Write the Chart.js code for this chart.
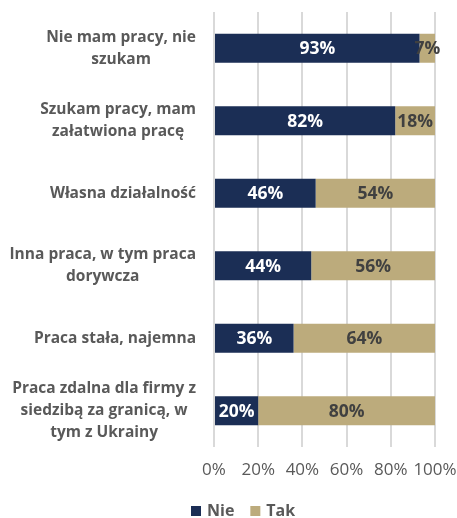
<!DOCTYPE html>
<html>
<head>
<meta charset="utf-8">
<script src="https://cdn.jsdelivr.net/npm/chart.js@4/dist/chart.umd.min.js"></script>
<style>
  html, body { margin: 0; padding: 0; background: #fff; }
  #wrap { width: 457px; height: 518px; }
</style>
</head>
<body>
<div id="wrap"><canvas id="c" width="457" height="518"></canvas></div>
<script>
// Categories (multi-line labels as arrays)
const categories = [
  ["Nie mam pracy, nie", "szukam"],
  ["Szukam pracy, mam", "załatwiona pracę"],
  "Własna działalność",
  ["Inna praca, w tym praca", "dorywcza"],
  "Praca stała, najemna",
  ["Praca zdalna dla firmy z", "siedzibą za granicą, w", "tym z Ukrainy"]
];
const nieValues = [93, 82, 46, 44, 36, 20];
const takValues = [7, 18, 54, 56, 64, 80];
const tickValues = [0, 20, 40, 60, 80, 100];

const NAVY = "#1B2E55";
const TAN = "#BCAB7C";
const GREY = "#595959";
const FONT = "'Open Sans', 'DejaVu Sans', sans-serif";
const CAT_FONT_SIZE = 15.5;
const CAT_LINE_HEIGHT = 21.7;
const CAT_GAP = 18;

// Draws the percentage inside each bar segment
const segmentLabels = {
  id: "segmentLabels",
  afterDatasetsDraw(chart) {
    const ctx = chart.ctx;
    ctx.save();
    ctx.font = "bold 17.5px " + FONT;
    ctx.textAlign = "center";
    ctx.textBaseline = "middle";
    chart.data.datasets.forEach((ds, di) => {
      const meta = chart.getDatasetMeta(di);
      meta.data.forEach((el, i) => {
        const p = el.getCenterPoint();
        ctx.fillStyle = ds.labelColor;
        ctx.fillText(ds.data[i] + "%", p.x, p.y + 1);
      });
    });
    ctx.restore();
  }
};

// Category labels: each block right-aligned to the axis, its lines centred within the block
const categoryLabels = {
  id: "categoryLabels",
  afterDraw(chart) {
    const ctx = chart.ctx;
    const yScale = chart.scales.y;
    const right = chart.chartArea.left - CAT_GAP;
    ctx.save();
    ctx.font = "bold " + CAT_FONT_SIZE + "px " + FONT;
    ctx.fillStyle = GREY;
    ctx.textAlign = "center";
    ctx.textBaseline = "middle";
    chart.data.labels.forEach((label, i) => {
      const lines = Array.isArray(label) ? label : [label];
      const maxW = Math.max(...lines.map(l => ctx.measureText(l).width));
      const cx = right - maxW / 2;
      const cy = yScale.getPixelForTick(i);
      const y0 = cy - (lines.length - 1) * CAT_LINE_HEIGHT / 2;
      lines.forEach((l, k) => ctx.fillText(l, cx, y0 + k * CAT_LINE_HEIGHT));
    });
    ctx.restore();
  }
};

// Legend row under the axis: square swatch followed by the series name
const bottomLegend = {
  id: "bottomLegend",
  afterDraw(chart) {
    const ctx = chart.ctx;
    const cy = chart.height - 7;
    let x = chart.chartArea.left - 23;
    ctx.save();
    ctx.font = "bold 16px " + FONT;
    ctx.textAlign = "left";
    ctx.textBaseline = "middle";
    chart.data.datasets.forEach(ds => {
      ctx.fillStyle = ds.backgroundColor;
      ctx.fillRect(x, cy - 5, 10, 10);
      x += 16;
      ctx.fillStyle = GREY;
      ctx.fillText(ds.label, x, cy);
      x += ctx.measureText(ds.label).width + 16;
    });
    ctx.restore();
  }
};

new Chart(document.getElementById("c"), {
  type: "bar",
  data: {
    labels: categories,
    datasets: [
      { label: "Nie", data: nieValues, backgroundColor: NAVY, labelColor: "#FFFFFF",
        barPercentage: 0.4, categoryPercentage: 1.0 },
      { label: "Tak", data: takValues, backgroundColor: TAN, labelColor: "#404040",
        barPercentage: 0.4, categoryPercentage: 1.0 }
    ]
  },
  options: {
    indexAxis: "y",
    responsive: false,
    animation: false,
    layout: { padding: { top: 12, right: 22, left: 4, bottom: 0 } },
    scales: {
      x: {
        stacked: true,
        min: 0,
        max: 100,
        afterBuildTicks(scale) { scale.ticks = tickValues.map(v => ({ value: v })); },
        afterFit(scale) {
          scale.height = 71;
          scale.paddingLeft = 0;
          scale.paddingRight = 0;
        },
        grid: { color: "#D9D9D9", lineWidth: 2, drawTicks: false },
        border: { display: false },
        ticks: {
          autoSkip: false,
          maxRotation: 0,
          minRotation: 0,
          padding: 13,
          color: GREY,
          font: { family: FONT, size: 17 },
          callback: v => v + "%"
        }
      },
      y: {
        stacked: true,
        grid: { display: false, drawTicks: false },
        border: { display: false },
        afterFit(scale) {
          scale.width = 210;
          scale.paddingTop = 0;
          scale.paddingBottom = 0;
        },
        ticks: {
          autoSkip: false,
          padding: CAT_GAP,
          color: "rgba(0,0,0,0)",
          font: { family: FONT, size: CAT_FONT_SIZE, weight: "bold", lineHeight: 1.4 }
        }
      }
    },
    plugins: {
      legend: { display: false },
      tooltip: { enabled: false }
    }
  },
  plugins: [segmentLabels, categoryLabels, bottomLegend]
});
</script>
</body>
</html>
